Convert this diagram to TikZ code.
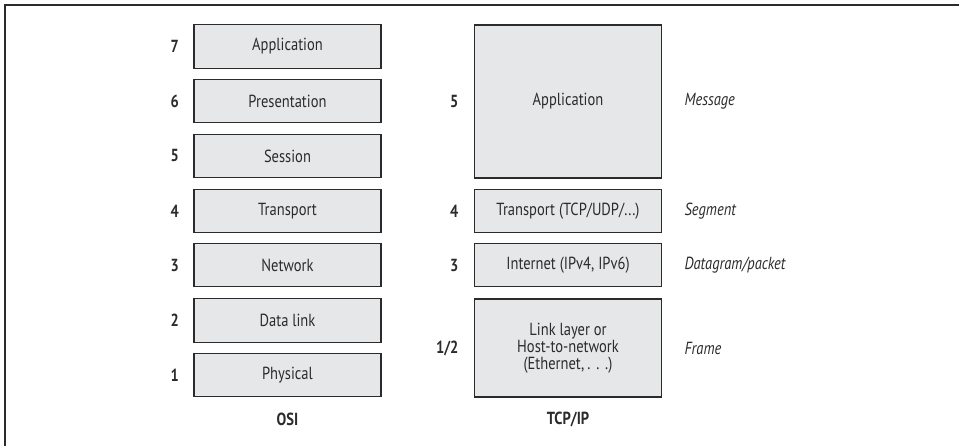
\documentclass[tikz,border=0pt]{standalone}
\usepackage{fontspec}
\setmainfont{PT Sans}[FakeStretch=0.83]
\definecolor{layerfill}{HTML}{E6E7E8}
\definecolor{layerink}{HTML}{2B2B2B}

\begin{document}
\begin{tikzpicture}[
  x=1pt,
  y=-1pt,
  every node/.style={font=\fontsize{17.5}{19}\selectfont, layerink},
  layer/.style={draw=layerink, fill=layerfill, line width=1.1pt,
                minimum width=187pt, inner sep=0pt, align=center},
  osilayer/.style={layer, minimum height=43.5pt},
  num/.style={anchor=east, font=\fontsize{17.5}{19}\selectfont\bfseries},
  pdu/.style={anchor=west, font=\fontsize{17.5}{19}\selectfont\itshape},
  caption/.style={font=\fontsize{17.5}{19}\selectfont\bfseries}
]
  \useasboundingbox (0,0) rectangle (959,446);
  %% ---- frame (top and left edges only) ---------------------------------
  \draw[layerink, line width=1.2pt] (5,446) -- (5,5) -- (959,5);

  %% ---- OSI stack ---------------------------------------------------------
  \node[osilayer] (osi7) at (287.5,46.5) {Application};
  \node[osilayer] (osi6) at (287.5,101)  {Presentation};
  \node[osilayer] (osi5) at (287.5,156)  {Session};
  \node[osilayer] (osi4) at (287.5,211)  {Transport};
  \node[osilayer] (osi3) at (287.5,265)  {Network};
  \node[osilayer] (osi2) at (287.5,320.5){Data link};
  \node[osilayer] (osi1) at (287.5,375)  {Physical};

  \foreach \n in {1,...,7}
    \node[num] (osinum\n) at ([xshift=-11pt]osi\n.west) {\n};

  \node[caption] (osilabel) at (287.5,419) {OSI};

  %% ---- TCP/IP stack ------------------------------------------------------
  \node[layer, minimum height=153pt] (tcpapp)  at (568,101.5) {Application};
  \node[layer, minimum height=43.5pt] (tcptrans) at (568,211)
    {Transport (TCP/UDP/...)};
  \node[layer, minimum height=43.5pt] (tcpnet)  at (568,265)
    {Internet (IPv4, IPv6)};
  \node[layer, minimum height=98pt] (tcplink) at (568,348)
    {Link layer or\\[-2pt]Host-to-network\\[-2pt](Ethernet,\,.\,\,.\,\,.)};

  \node[num] (tcpnum5) at ([xshift=-12pt]tcpapp.west)   {5};
  \node[num] (tcpnum4) at ([xshift=-12pt]tcptrans.west) {4};
  \node[num] (tcpnum3) at ([xshift=-12pt]tcpnet.west)   {3};
  \node[num] (tcpnum1) at ([xshift=-12pt]tcplink.west)  {1/2};

  \node[caption] (tcplabel) at (568,419) {TCP/IP};

  %% ---- data unit names ---------------------------------------------------
  \node[pdu] (msg)  at ([xshift=19pt]tcpapp.east)   {Message};
  \node[pdu] (seg)  at ([xshift=19pt]tcptrans.east) {Segment};
  \node[pdu] (dgram) at ([xshift=19pt]tcpnet.east)  {Datagram/packet};
  \node[pdu] (frame) at ([xshift=19pt]tcplink.east) {Frame};
\end{tikzpicture}
\end{document}
